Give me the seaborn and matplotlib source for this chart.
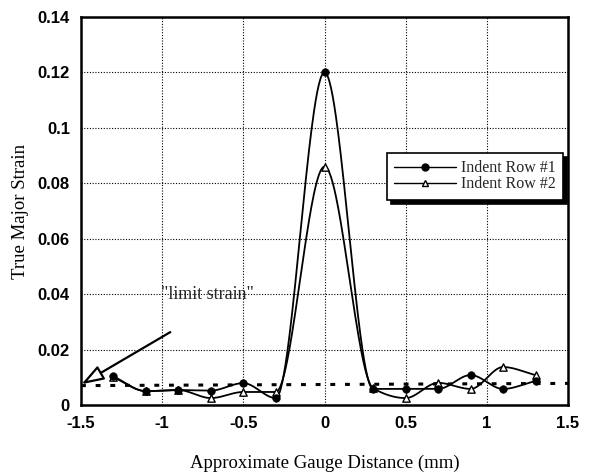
import numpy as np
import pandas as pd
import matplotlib
matplotlib.use("Agg")
import matplotlib.pyplot as plt
import seaborn as sns
from matplotlib.lines import Line2D

# ---- data ----
x_row1 = [-1.3, -1.1, -0.9, -0.7, -0.5, -0.3, 0.0, 0.3, 0.5, 0.7, 0.9, 1.1, 1.3]
y_row1 = [0.0103, 0.0050, 0.0054, 0.0052, 0.0079, 0.0025, 0.1200, 0.0058, 0.0058, 0.0058, 0.0108, 0.0058, 0.0087]
x_row2 = [-1.3, -1.1, -0.9, -0.7, -0.5, -0.3, 0.0, 0.3, 0.5, 0.7, 0.9, 1.1, 1.3]
y_row2 = [0.0100, 0.0050, 0.0054, 0.0025, 0.0047, 0.0047, 0.0860, 0.0060, 0.0025, 0.0080, 0.0058, 0.0137, 0.0108]
limit_x = [-1.5, 1.5]
limit_y = [0.0070, 0.0078]
series_names = ["Indent Row #1", "Indent Row #2"]
x_ticks = [-1.5, -1, -0.5, 0, 0.5, 1, 1.5]
x_tick_labels = ["-1.5", "-1", "-0.5", "0", "0.5", "1", "1.5"]
y_ticks = [0, 0.02, 0.04, 0.06, 0.08, 0.1, 0.12, 0.14]
y_tick_labels = ["0", "0.02", "0.04", "0.06", "0.08", "0.1", "0.12", "0.14"]


def smooth_curve(x, y, n=60):
    """Smooth drawing curve through the data points (Hermite spline with
    damped tangents), used only for rendering the connecting line."""
    x = np.asarray(x, float); y = np.asarray(y, float)
    k = len(x)
    d = np.zeros(k)
    for i in range(k):
        if i == 0:
            d[i] = (y[1] - y[0]) / (x[1] - x[0])
        elif i == k - 1:
            d[i] = (y[-1] - y[-2]) / (x[-1] - x[-2])
        else:
            s0 = (y[i] - y[i - 1]) / (x[i] - x[i - 1])
            s1 = (y[i + 1] - y[i]) / (x[i + 1] - x[i])
            d[i] = 0.0 if s0 * s1 <= 0 else 2 * s0 * s1 / (s0 + s1)
    xs, ys = [], []
    for i in range(k - 1):
        h = x[i + 1] - x[i]
        t = np.linspace(0, 1, n, endpoint=(i == k - 2))
        h00 = 2 * t ** 3 - 3 * t ** 2 + 1
        h10 = t ** 3 - 2 * t ** 2 + t
        h01 = -2 * t ** 3 + 3 * t ** 2
        h11 = t ** 3 - t ** 2
        xs.append(x[i] + t * h)
        ys.append(h00 * y[i] + h10 * h * d[i] + h01 * y[i + 1] + h11 * h * d[i + 1])
    return np.concatenate(xs), np.concatenate(ys)


sns.set_theme(style="white")
plt.rcParams["font.family"] = ["Liberation Serif", "DejaVu Serif"]

fig = plt.figure(figsize=(5.91, 4.74), dpi=100)
ax = fig.add_axes([81 / 591, 1 - 405 / 474, 487 / 591, 388 / 474])

# smooth curves
for xv, yv in [(x_row1, y_row1), (x_row2, y_row2)]:
    sx, sy = smooth_curve(xv, yv)
    sns.lineplot(x=sx, y=sy, ax=ax, color="black", linewidth=1.3, sort=False, zorder=3)

# markers
df2 = pd.DataFrame({"x": x_row2, "y": y_row2})
df1 = pd.DataFrame({"x": x_row1, "y": y_row1})
sns.scatterplot(data=df2, x="x", y="y", ax=ax, marker="^", s=28, facecolor="white",
                edgecolor="black", linewidth=1.0, zorder=4)
sns.scatterplot(data=df1, x="x", y="y", ax=ax, marker="o", s=30, color="black",
                edgecolor="black", zorder=5)

# limit strain dotted line
sns.lineplot(x=limit_x, y=limit_y, ax=ax, color="black", linewidth=2.2,
             linestyle=(0, (1.6, 3.2)), zorder=2)

ax.text(-1.01, 0.0397, '"limit strain"', fontsize=13, ha="left", va="center")
ax.annotate("", xy=(-1.497, 0.0075), xytext=(-0.95, 0.0263),
            arrowprops=dict(arrowstyle="-|>,head_length=1.35,head_width=0.46", fc="white",
                            ec="black", lw=1.6, shrinkA=0, shrinkB=0, mutation_scale=10),
            zorder=6, annotation_clip=False)

ax.set_xlim(-1.5, 1.5)
ax.set_ylim(0, 0.14)
ax.set_xticks(x_ticks)
ax.set_xticklabels(x_tick_labels)
ax.set_yticks(y_ticks)
ax.set_yticklabels(y_tick_labels)
for lab in ax.get_xticklabels() + ax.get_yticklabels():
    lab.set_fontfamily("Liberation Sans")
    lab.set_fontweight("bold")
    lab.set_fontsize(12)
ax.tick_params(axis="both", length=0, pad=8, colors="black")
ax.grid(True, color="black", linestyle=(0, (1, 1.5)), linewidth=0.8)
for s in ax.spines.values():
    s.set_visible(True)
    s.set_color("black")
    s.set_linewidth(1.8)

ax.set_xlabel("Approximate Gauge Distance (mm)", fontsize=13.5, labelpad=17, color="black")
ax.set_ylabel("True Major Strain", fontsize=13.5, labelpad=6, color="black")

handles = [
    Line2D([], [], color="black", lw=1.0, marker="o", markersize=5, markerfacecolor="black"),
    Line2D([], [], color="black", lw=1.0, marker="^", markersize=5, markerfacecolor="white"),
]
leg = ax.legend(handles, series_names, loc="upper left", bbox_to_anchor=(0.628, 0.649),
                borderaxespad=0, frameon=True, fancybox=False, fontsize=11.5,
                handlelength=3.9, handletextpad=0.3, labelspacing=0.0,
                borderpad=0.45, shadow={"ox": 3, "oy": -3, "color": "black", "alpha": 1})
leg.get_frame().set_edgecolor("black")
leg.get_frame().set_linewidth(1.2)
leg.get_frame().set_facecolor("white")
leg.set_zorder(10)

fig.savefig("out.png", dpi=100)
